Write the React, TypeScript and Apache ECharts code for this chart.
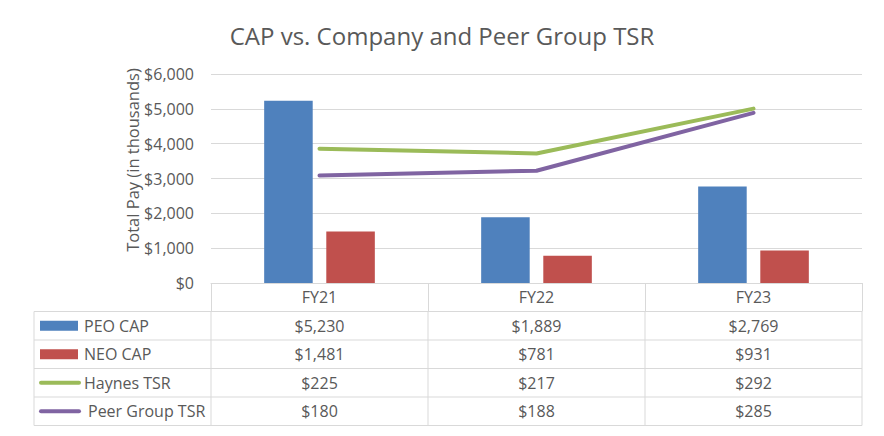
import React, { useEffect, useRef } from "react";
import * as echarts from "echarts";

const categories = ["FY21", "FY22", "FY23"];
const peoCap = [5230, 1889, 2769];
const neoCap = [1481, 781, 931];
const haynesTsr = [225, 217, 292];
const peerTsr = [180, 188, 285];
const seriesNames = ["PEO CAP", "NEO CAP", "Haynes TSR", "Peer Group TSR"];
const seriesColors = ["#4F81BD", "#C0504D", "#9BBB59", "#8064A2"];
const seriesKinds = ["bar", "bar", "line", "line"];
const titleText = "CAP vs. Company and Peer Group TSR";
const yAxisTitle = "Total Pay (in thousands)";

const FONT = "'Open Sans', 'Noto Sans', sans-serif";
const TXT = "#595959";
const GRIDC = "#d9d9d9";
const W = 884;
const H = 436;
const GL = 211;
const GR = 862;
const GT = 74;
const AXY = 283;
const ROWH = 28.5;
const TL = 34;
const FS = 16;

const fmt = (v: number) => "$" + v.toLocaleString("en-US");

export default function App() {
  const ref = useRef<HTMLDivElement>(null);
  useEffect(() => {
    if (!ref.current) return;
    const chart = echarts.init(ref.current, undefined, { renderer: "svg" });
    const values = [peoCap, neoCap, haynesTsr, peerTsr];
    const colW = (GR - GL) / categories.length;
    const graphics: any[] = [];
    graphics.push({
      type: "text",
      x: 442,
      y: 35,
      style: { text: titleText, font: `24px ${FONT}`, fill: TXT, align: "center", verticalAlign: "middle" },
    });
    graphics.push({
      type: "text",
      x: 132,
      y: 160,
      rotation: Math.PI / 2,
      style: { text: yAxisTitle, font: `16.5px ${FONT}`, fill: TXT, align: "center", verticalAlign: "middle" },
    });
    const nRows = seriesNames.length;
    const tableBottom = AXY + ROWH * (nRows + 1);
    for (let r = 1; r <= nRows + 1; r++) {
      const y = AXY + ROWH * r;
      graphics.push({ type: "line", shape: { x1: TL, y1: y, x2: GR, y2: y }, style: { stroke: GRIDC, lineWidth: 1 } });
    }
    graphics.push({ type: "line", shape: { x1: TL, y1: AXY + ROWH, x2: TL, y2: tableBottom }, style: { stroke: GRIDC, lineWidth: 1 } });
    for (let c = 0; c <= categories.length; c++) {
      const x = GL + colW * c;
      graphics.push({ type: "line", shape: { x1: x, y1: AXY + ROWH, x2: x, y2: tableBottom }, style: { stroke: GRIDC, lineWidth: 1 } });
    }
    for (let r = 0; r < nRows; r++) {
      const cy = AXY + ROWH * (r + 1) + ROWH / 2;
      if (seriesKinds[r] === "bar") {
        graphics.push({ type: "rect", shape: { x: 40, y: cy - 5, width: 38, height: 10 }, style: { fill: seriesColors[r] } });
      } else {
        graphics.push({ type: "line", shape: { x1: 41, y1: cy, x2: 79, y2: cy }, style: { stroke: seriesColors[r], lineWidth: 4, lineCap: "round" } });
      }
      graphics.push({
        type: "text",
        x: r === 3 ? 88 : 84,
        y: cy,
        style: { text: seriesNames[r], font: `${FS}px ${FONT}`, fill: TXT, align: "left", verticalAlign: "middle" },
      });
      for (let c = 0; c < categories.length; c++) {
        graphics.push({
          type: "text",
          x: GL + colW * (c + 0.5),
          y: cy,
          style: { text: fmt(values[r][c]), font: `${FS}px ${FONT}`, fill: TXT, align: "center", verticalAlign: "middle" },
        });
      }
    }

    chart.setOption({
      animation: false,
      backgroundColor: "#ffffff",
      textStyle: { fontFamily: FONT },
      grid: { left: GL, right: W - GR, top: GT, bottom: H - AXY, containLabel: false },
      xAxis: {
        type: "category",
        data: categories,
        boundaryGap: true,
        axisLine: { show: true, lineStyle: { color: GRIDC, width: 1 } },
        axisTick: { show: true, interval: 0, length: ROWH, lineStyle: { color: GRIDC, width: 1 } },
        axisLabel: { show: true, color: TXT, fontSize: FS, fontFamily: FONT, margin: 6 },
        splitLine: { show: false },
      },
      yAxis: [
        {
          type: "value",
          min: 0,
          max: 6000,
          interval: 1000,
          axisLine: { show: false },
          axisTick: { show: false },
          axisLabel: { color: TXT, fontSize: FS, fontFamily: FONT, margin: 17, formatter: (v: number) => fmt(v) },
          splitLine: { show: true, lineStyle: { color: GRIDC, width: 1 } },
        },
        {
          type: "value",
          min: 0,
          max: 350,
          interval: 50,
          show: false,
          splitLine: { show: false },
        },
      ],
      series: [
        {
          name: seriesNames[0],
          type: "bar",
          data: peoCap,
          itemStyle: { color: seriesColors[0] },
          barGap: "28%",
          barCategoryGap: "49%",
        },
        {
          name: seriesNames[1],
          type: "bar",
          data: neoCap,
          itemStyle: { color: seriesColors[1] },
          barGap: "28%",
          barCategoryGap: "49%",
        },
        {
          name: seriesNames[2],
          type: "line",
          yAxisIndex: 1,
          data: haynesTsr,
          symbol: "none",
          lineStyle: { color: seriesColors[2], width: 4, cap: "round", join: "round" },
          itemStyle: { color: seriesColors[2] },
        },
        {
          name: seriesNames[3],
          type: "line",
          yAxisIndex: 1,
          data: peerTsr,
          symbol: "none",
          lineStyle: { color: seriesColors[3], width: 4, cap: "round", join: "round" },
          itemStyle: { color: seriesColors[3] },
        },
      ],
      graphic: graphics,
    });
    return () => chart.dispose();
  }, []);
  return <div ref={ref} style={{ width: W, height: H, position: "absolute", left: 0, top: 0 }} />;
}
